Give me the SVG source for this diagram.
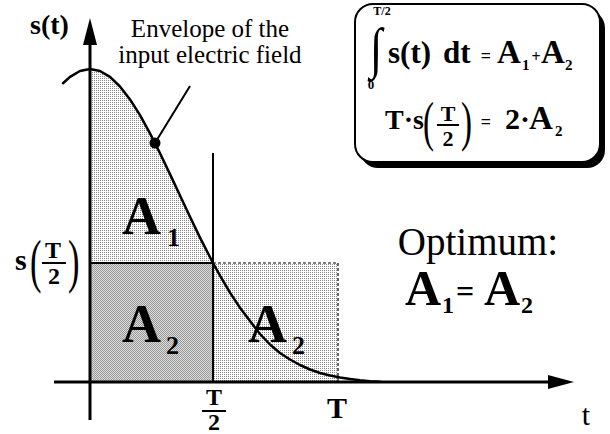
<svg xmlns="http://www.w3.org/2000/svg" width="610" height="434" viewBox="0 0 610 434">
<style>
.serif{font-family:"Liberation Serif","Times New Roman",serif;fill:#000}
.b{font-weight:bold}
.big{font-size:54px;font-weight:bold}
.sub{font-size:26px;font-weight:bold}
.ax{stroke:#000;stroke-width:3;fill:none}
.thin{stroke:#000;stroke-width:2;fill:none}
.dash{stroke:#000;stroke-width:1.2;fill:none;stroke-dasharray:3 2}
</style>
<defs>
<pattern id="light" width="2" height="2" patternUnits="userSpaceOnUse">
<rect width="2" height="2" fill="#ffffff"/>
<rect width="1" height="1" fill="#888888"/>
</pattern>
<pattern id="dark" width="2" height="2" patternUnits="userSpaceOnUse">
<rect width="2" height="2" fill="#dcdcdc"/>
<rect width="1" height="1" fill="#999999"/>
<rect x="1" y="1" width="1" height="1" fill="#999999"/>
</pattern>
</defs>
<rect width="610" height="434" fill="#fff"/>

<g id="areas">
<polygon fill="url(#light)" points="90,69 100,71 110,76.9 120,86.5 130,99.4 140,115.2 150,133.4 160,153.2 170,174.1 180,195.5 190,216.8 200,237.6 213,263 90,263"/>
<rect x="90" y="263" width="123" height="119" fill="url(#dark)"/>
<rect x="213" y="263" width="125" height="119" fill="url(#light)"/>
</g>

<g id="guides">
<line class="thin" x1="213" y1="153" x2="213" y2="382"/>
<line class="thin" x1="90" y1="263" x2="213" y2="263"/>
<polyline class="dash" points="213,263 338,263 338,382"/>
</g>

<g id="axes">
<line class="ax" x1="90" y1="420" x2="90" y2="42"/>
<path d="M90,18 L97,45 L83,45 z" fill="#000"/>
<line class="ax" x1="54" y1="382" x2="550" y2="382"/>
<path d="M574,382 L548,375 L548,389 z" fill="#000"/>
</g>

<g id="curve">
<polyline fill="none" stroke="#000" stroke-width="2.5" stroke-linejoin="round" stroke-linecap="round" points="63,83.2 70,76.9 80,71 90,69 100,71 110,76.9 120,86.5 130,99.4 140,115.2 150,133.4 160,153.2 170,174.1 180,195.5 190,216.8 200,237.6 213,263 220,275.7 230,292.6 240,307.7 250,321 260,334 270,344.5 280,353 290,359.5 300,365 310,369.5 320,373 330,375.5 340,377.5 350,379 360,380.3 370,381.2 380,381.8"/>
<circle cx="155" cy="143" r="5.5" fill="#000"/>
</g>

<g id="connectors">
<line class="thin" x1="155" y1="143" x2="190" y2="86"/>
</g>

<g id="label-envelope">
<text class="serif" font-size="25" x="210" y="37" text-anchor="middle">Envelope of the</text>
<text class="serif" font-size="25" x="210" y="63" text-anchor="middle">input electric field</text>
</g>

<g id="label-st">
<text class="serif b" font-size="28" x="30" y="34">s(t)</text>
</g>

<g id="label-sT2">
<text class="serif b" font-size="30" x="15" y="270">s</text>
<text class="serif" font-size="46" x="30" y="281" transform="translate(30,281) scale(0.75,1.3) translate(-30,-281)">(</text>
<text class="serif b" font-size="24" x="53" y="258" text-anchor="middle">T</text>
<line class="thin" x1="42" y1="263" x2="66" y2="263"/>
<text class="serif b" font-size="24" x="54" y="284" text-anchor="middle">2</text>
<text class="serif" font-size="46" x="68" y="281" transform="translate(68,281) scale(0.75,1.3) translate(-68,-281)">)</text>
</g>

<g id="label-A1">
<text class="serif big" x="122" y="234">A</text>
<text class="serif sub" x="167" y="246">1</text>
</g>
<g id="label-A2-left">
<text class="serif big" x="122" y="342">A</text>
<text class="serif sub" x="166" y="354">2</text>
</g>
<g id="label-A2-right">
<text class="serif big" x="248" y="342">A</text>
<text class="serif sub" x="292" y="354">2</text>
</g>

<g id="tick-T2">
<text class="serif b" font-size="24" x="214" y="405" text-anchor="middle">T</text>
<line class="thin" x1="202" y1="411" x2="226" y2="411"/>
<text class="serif b" font-size="24" x="214" y="430" text-anchor="middle">2</text>
</g>
<g id="tick-T">
<text class="serif b" font-size="30" x="337" y="418" text-anchor="middle">T</text>
</g>
<g id="label-t">
<text class="serif" font-size="30" x="586" y="425" text-anchor="middle">t</text>
</g>

<g id="formula-box">
<rect x="360" y="10" width="245" height="158" rx="18" fill="#000"/>
<rect x="355" y="4" width="245" height="158" rx="18" fill="#fff" stroke="#000" stroke-width="2"/>
<text class="serif b" font-size="12" x="382" y="15" text-anchor="middle">T/2</text>
<text class="serif" font-size="50" x="376" y="67" text-anchor="middle" transform="translate(376,67) scale(0.9,1.12) translate(-376,-67)">∫</text>
<text class="serif b" font-size="13" x="371" y="89" text-anchor="middle">0</text>
<text class="serif b" font-size="31" x="388" y="63">s(t)</text>
<text class="serif b" font-size="31" x="443" y="63">dt</text>
<text class="serif b" font-size="18" x="486" y="62" text-anchor="middle">=</text>
<text class="serif b" font-size="33" x="497" y="63">A</text>
<text class="serif b" font-size="15" x="522" y="70">1</text>
<text class="serif b" font-size="16" x="536" y="62" text-anchor="middle">+</text>
<text class="serif b" font-size="33" x="541" y="63">A</text>
<text class="serif b" font-size="15" x="565" y="70">2</text>

<text class="serif b" font-size="28" x="385" y="129">T·s</text>
<text class="serif" font-size="44" x="423" y="140" transform="translate(423,140) scale(0.75,1.25) translate(-423,-140)">(</text>
<text class="serif b" font-size="22" x="448" y="121" text-anchor="middle">T</text>
<line class="thin" x1="437" y1="125" x2="459" y2="125"/>
<text class="serif b" font-size="22" x="448" y="146" text-anchor="middle">2</text>
<text class="serif" font-size="44" x="461" y="140" transform="translate(461,140) scale(0.75,1.25) translate(-461,-140)">)</text>
<text class="serif b" font-size="18" x="486" y="128" text-anchor="middle">=</text>
<text class="serif b" font-size="30" x="505" y="129">2</text>
<text class="serif b" font-size="30" x="520" y="129">·</text>
<text class="serif b" font-size="33" x="529" y="129">A</text>
<text class="serif b" font-size="15" x="555" y="136">2</text>
</g>

<g id="label-optimum">
<text class="serif" font-size="39" x="478" y="255" text-anchor="middle">Optimum:</text>
<text class="serif b" font-size="50" x="405" y="305">A</text>
<text class="serif b" font-size="24" x="442" y="313">1</text>
<text class="serif b" font-size="32" x="456" y="302">=</text>
<text class="serif b" font-size="50" x="484" y="305">A</text>
<text class="serif b" font-size="24" x="521" y="313">2</text>
</g>
</svg>
